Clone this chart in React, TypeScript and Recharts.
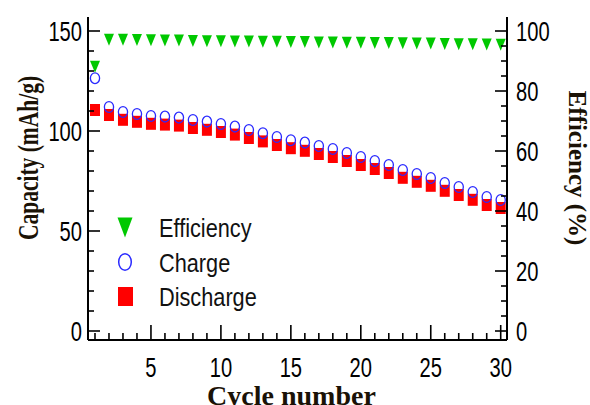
import { ComposedChart, Scatter, XAxis, YAxis, Legend } from 'recharts';

// cycle data
const cycles = [1, 2, 3, 4, 5, 6, 7, 8, 9, 10, 11, 12, 13, 14, 15, 16, 17, 18, 19, 20, 21, 22, 23, 24, 25, 26, 27, 28, 29, 30];
const charge = [126.4, 112, 109.5, 108.5, 107.5, 107.2, 106.7, 105.5, 104.7, 103.5, 102.2, 100.5, 98.9, 97, 95.4, 94.2, 92.5, 91, 89, 87, 85, 83, 80.5, 78.5, 76.5, 74, 72, 69.5, 67, 65.5];
const discharge = [110.5, 108, 105.6, 104.6, 103.6, 103.2, 102.7, 101.5, 100.6, 99.5, 98.2, 96.5, 94.8, 93, 91.4, 90.1, 88.5, 87, 85, 83, 81, 79, 76.6, 74.6, 72.6, 70.1, 68, 65.6, 63, 61.5];
const efficiency = [88.1, 97.1, 97.1, 97.0, 96.9, 96.8, 96.8, 96.7, 96.6, 96.6, 96.5, 96.5, 96.4, 96.4, 96.3, 96.3, 96.2, 96.2, 96.1, 96.1, 96.0, 96.0, 95.9, 95.8, 95.8, 95.7, 95.6, 95.6, 95.5, 95.4];

const xLabels = [5, 10, 15, 20, 25, 30];
const capTicks = [0, 10, 20, 30, 40, 50, 60, 70, 80, 90, 100, 110, 120, 130, 140, 150];
const capLabels = [0, 50, 100, 150];
const effTicks = [0, 5, 10, 15, 20, 25, 30, 35, 40, 45, 50, 55, 60, 65, 70, 75, 80, 85, 90, 95, 100];
const effLabels = [0, 20, 40, 60, 80, 100];

const data = cycles.map((c, i) => ({
  cycle: c,
  charge: charge[i],
  discharge: discharge[i],
  efficiency: efficiency[i],
}));

const GREEN = '#00c800';
const BLUE = '#2a2aff';
const RED = '#ff0000';
const TITLE = '#1a1206';
const SANS = 'Liberation Sans, Arial, sans-serif';
const SERIF = 'Liberation Serif, Times New Roman, serif';

// narrow, tall tick numbers
const Num = ({ x, y, anchor, children }: any) => (
  <g transform={`translate(${x},${y})`}>
    <text transform="scale(0.72,1)" textAnchor={anchor} dy="0.36em" fontSize={28} fontFamily={SANS} fill="#000">
      {children}
    </text>
  </g>
);

const LeftTick = (p: any) => {
  const v = p.payload.value;
  const major = capLabels.includes(v);
  return (
    <g>
      <line x1={p.x} x2={p.x + (major ? 12 : 6)} y1={p.y} y2={p.y} stroke="#000" strokeWidth={1.6} />
      {major && <Num x={p.x - 6} y={p.y} anchor="end">{v}</Num>}
    </g>
  );
};

const RightTick = (p: any) => {
  const v = p.payload.value;
  const major = effLabels.includes(v);
  return (
    <g>
      <line x1={p.x} x2={p.x - (major ? 12 : 6)} y1={p.y} y2={p.y} stroke="#000" strokeWidth={1.6} />
      {major && <Num x={p.x + 9} y={p.y} anchor="start">{v}</Num>}
    </g>
  );
};

const BottomTick = (p: any) => {
  const v = p.payload.value;
  const major = xLabels.includes(v);
  return (
    <g>
      <line x1={p.x} x2={p.x} y1={p.y} y2={p.y - (major ? 15 : 7)} stroke="#000" strokeWidth={1.6} />
      {major && <Num x={p.x} y={p.y + 27} anchor="middle">{v}</Num>}
    </g>
  );
};

const TriDown = (p: any) => (
  <polygon points={`${p.cx - 5},${p.cy - 6} ${p.cx + 5},${p.cy - 6} ${p.cx},${p.cy + 6}`} fill={GREEN} />
);
const Ring = (p: any) => (
  <ellipse cx={p.cx} cy={p.cy} rx={4.6} ry={5.4} fill="none" stroke={BLUE} strokeWidth={1.3} />
);
const Box = (p: any) => <rect x={p.cx - 5} y={p.cy - 6} width={10} height={12} fill={RED} />;

const legendRows = [
  { name: 'Efficiency', kind: 'tri' },
  { name: 'Charge', kind: 'ring' },
  { name: 'Discharge', kind: 'box' },
];

const LegendBox = () => (
  <svg width={160} height={115}>
    {legendRows.map((r, i) => {
      const cy = 22.5 + i * 34.5;
      return (
        <g key={r.name}>
          {r.kind === 'tri' && <polygon points={`7.5,${cy - 10} 22.5,${cy - 10} 15,${cy + 10}`} fill={GREEN} />}
          {r.kind === 'ring' && <ellipse cx={15} cy={cy} rx={6.3} ry={8.3} fill="none" stroke={BLUE} strokeWidth={1.5} />}
          {r.kind === 'box' && <rect x={8} y={cy - 9.5} width={15} height={19} fill={RED} />}
          <g transform={`translate(49,${cy + 9.5})`}>
            <text transform="scale(0.82,1)" fontSize={26.5} fontFamily={SANS} fill="#111">{r.name}</text>
          </g>
        </g>
      );
    })}
  </svg>
);

const XTitle = (p: any) => {
  const vb = p.viewBox;
  return (
    <text x={vb.x + vb.width / 2 - 6} y={vb.y + 65} textAnchor="middle" fontSize={28} fontWeight="bold" fontFamily={SERIF} fill={TITLE}>
      Cycle number
    </text>
  );
};

// rotated titles are a bit stretched across the line in the original
const LeftTitle = (p: any) => {
  const vb = p.viewBox;
  const x = vb.x + 28;
  const y = vb.y + vb.height / 2 - 20.5;
  return (
    <g transform={`translate(${x},${y}) rotate(-90) scale(1,1.35)`}>
      <text textAnchor="middle" dominantBaseline="central" fontSize={21.5} fontWeight="bold" fontFamily={SERIF} fill={TITLE}>
        Capacity (mAh/g)
      </text>
    </g>
  );
};

const RightTitle = (p: any) => {
  const vb = p.viewBox;
  const x = vb.x + 70;
  const y = vb.y + vb.height / 2 - 10.5;
  return (
    <text x={x} y={y} transform={`rotate(90,${x},${y})`} textAnchor="middle" dominantBaseline="central" fontSize={25} fontWeight="bold" fontFamily={SERIF} fill={TITLE}>
      Efficiency (%)
    </text>
  );
};

export default function App() {
  return (
    <div style={{ position: 'absolute', left: 0, top: 0, background: '#fff' }}>
      <ComposedChart width={590} height={405} data={data} margin={{ top: 17, right: 0, bottom: 0, left: 0 }}>
        <XAxis
          dataKey="cycle"
          type="number"
          domain={[0.5, 30.45]}
          allowDataOverflow
          ticks={cycles}
          interval={0}
          height={65}
          tickSize={0}
          tickMargin={0}
          tickLine={false}
          tick={BottomTick}
          axisLine={{ stroke: '#000', strokeWidth: 2 }}
          label={XTitle}
        />
        <XAxis
          xAxisId="top"
          orientation="top"
          dataKey="cycle"
          type="number"
          domain={[0.5, 30.45]}
          allowDataOverflow
          height={0}
          tick={false}
          tickLine={false}
          axisLine={{ stroke: '#000', strokeWidth: 2 }}
        />
        <YAxis
          yAxisId="cap"
          orientation="left"
          type="number"
          domain={[-4.5, 157]}
          allowDataOverflow
          ticks={capTicks}
          interval={0}
          width={88}
          tickSize={0}
          tickMargin={0}
          tickLine={false}
          tick={LeftTick}
          axisLine={{ stroke: '#000', strokeWidth: 2 }}
          label={LeftTitle}
        />
        <YAxis
          yAxisId="eff"
          orientation="right"
          type="number"
          domain={[-3, 104.667]}
          allowDataOverflow
          ticks={effTicks}
          interval={0}
          width={83}
          tickSize={0}
          tickMargin={0}
          tickLine={false}
          tick={RightTick}
          axisLine={{ stroke: '#000', strokeWidth: 2 }}
          label={RightTitle}
        />
        <Scatter name="Discharge" dataKey="discharge" yAxisId="cap" shape={Box} isAnimationActive={false} />
        <Scatter name="Charge" dataKey="charge" yAxisId="cap" shape={Ring} isAnimationActive={false} />
        <Scatter name="Efficiency" dataKey="efficiency" yAxisId="eff" shape={TriDown} isAnimationActive={false} />
        <Legend
          layout="vertical"
          align="center"
          verticalAlign="middle"
          content={LegendBox}
          wrapperStyle={{ left: 110, top: 205, width: 160, height: 115 }}
        />
      </ComposedChart>
    </div>
  );
}
